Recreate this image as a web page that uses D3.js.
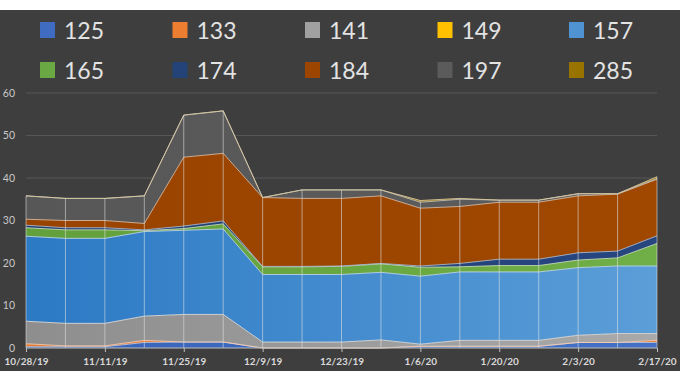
<!DOCTYPE html>
<html>
<head>
<meta charset="utf-8">
<script src="https://cdn.jsdelivr.net/npm/d3@7"></script>
<style>
  html, body { margin: 0; padding: 0; background: #ffffff; }
  svg { display: block; }
</style>
</head>
<body>
<svg id="chart" width="680" height="382"></svg>
<script>
// ---------- DATA ----------
const dates = ["10/28/19","11/4/19","11/11/19","11/18/19","11/25/19","12/2/19","12/9/19","12/16/19",
  "12/23/19","12/30/19","1/6/20","1/13/20","1/20/20","1/27/20","2/3/20","2/10/20","2/17/20"];
const xTickLabels = ["10/28/19","11/11/19","11/25/19","12/9/19","12/23/19","1/6/20","1/20/20","2/3/20","2/17/20"];
const yTicks = [0, 10, 20, 30, 40, 50, 60];
const seriesNames = ["125","133","141","149","157","165","174","184","197","285"];
const s125 = [0.3,0.3,0.3,1.3,1.4,1.4,0,0,0,0,0.4,0.4,0.4,0.4,1.3,1.3,1.3];
const s133 = [0.7,0.2,0.2,0.5,0,0,0,0,0,0,0,0,0,0,0,0,0.5];
const s141 = [5.3,5.3,5.3,5.7,6.5,6.5,1.4,1.4,1.4,1.9,0.5,1.4,1.4,1.4,1.7,2.1,1.6];
const s149 = [0,0,0,0,0,0,0,0,0,0,0,0,0,0,0,0,0];
const s157 = [20.0,20.0,20.0,19.9,19.8,20.1,15.9,15.9,15.9,15.9,16.0,16.1,16.1,16.1,15.9,15.9,15.9];
const s165 = [2.0,2.0,2.0,0.2,0.4,1.2,1.8,1.8,1.9,2.0,2.1,1.2,1.5,1.5,1.8,1.9,5.3];
const s174 = [0.6,0.5,0.5,0.2,0.6,0.7,0.1,0.1,0.1,0.1,0.3,0.8,1.5,1.5,1.7,1.6,1.8];
const s184 = [1.4,1.7,1.7,1.5,16.2,15.9,16.2,16.0,15.9,15.9,13.6,13.4,13.4,13.4,13.4,13.4,13.3];
const s197 = [5.5,5.2,5.2,6.5,9.9,10.0,0,2.0,2.0,1.4,1.4,1.7,0.5,0.5,0.5,0.1,0.2];
const s285 = [0,0,0,0,0,0,0,0,0,0,0.4,0.2,0,0,0,0,0.4];
const seriesValues = [s125,s133,s141,s149,s157,s165,s174,s184,s197,s285];
const seriesColors = ["#3f6cc0","#ed7d31","#a0a0a0","#ffc000","#4f93d2","#6aa843","#244379","#9c4500","#5b5b5b","#997300"];
const gradLeft  = ["#3864b8","#ea7a2e","#8e8e8e","#f5b800","#2c79c4","#62a03c","#223f72","#994300","#575757","#936e00"];
const gradRight = ["#4272c6","#ef8035","#a9a9a9","#ffc400","#5b9ed8","#70ae47","#274680","#a04800","#5d5d5d","#9b7500"];

// ---------- BUILD ----------
const rows = dates.map((d, i) => {
  const r = { date: d };
  seriesNames.forEach((n, k) => r[n] = seriesValues[k][i]);
  return r;
});

const svg = d3.select("#chart");
const W = 680, H = 382;

svg.append("rect").attr("x", 0).attr("y", 0).attr("width", W).attr("height", H).attr("fill", "#ffffff");
svg.append("rect").attr("x", 0).attr("y", 10).attr("width", W).attr("height", 361).attr("fill", "#3e3e3e");

const x = d3.scalePoint().domain(dates).range([26, 657]);
const y = d3.scaleLinear().domain([0, 60]).range([348, 93]);

const defs = svg.append("defs");
seriesColors.forEach((c, k) => {
  const g = defs.append("linearGradient").attr("id", "grad" + k)
    .attr("gradientUnits", "userSpaceOnUse").attr("x1", 26).attr("x2", 657).attr("y1", 0).attr("y2", 0);
  g.append("stop").attr("offset", "0%").attr("stop-color", gradLeft[k]);
  g.append("stop").attr("offset", "100%").attr("stop-color", gradRight[k]);
});

// gridlines
svg.append("g").selectAll("line").data(yTicks.filter(t => t > 0)).join("line")
  .attr("x1", 26).attr("x2", 657).attr("y1", d => y(d)).attr("y2", d => y(d))
  .attr("stroke", "#575757").attr("stroke-width", 1);

// y labels
svg.append("g").selectAll("text").data(yTicks).join("text")
  .attr("x", 15).attr("y", d => y(d)).attr("dy", "0.35em")
  .attr("text-anchor", "end").attr("fill", "#c8c8c8")
  .attr("font-family", "Lato, 'Open Sans', sans-serif").attr("font-size", 10.5)
  .text(d => d);

// stack
const layers = d3.stack().keys(seriesNames)(rows);

const area = d3.area()
  .x(d => x(d.data.date))
  .y0(d => y(d[0]))
  .y1(d => y(d[1]));

svg.append("g").selectAll("path").data(layers).join("path")
  .attr("d", area)
  .attr("fill", (d, i) => `url(#grad${i})`);

// top border lines of each layer
const topLine = d3.line().x(d => x(d.data.date)).y(d => y(d[1]));
svg.append("g").selectAll("path").data(layers).join("path")
  .attr("d", topLine)
  .attr("fill", "none")
  .attr("stroke", (d, i) => d3.interpolateRgb(seriesColors[i], "#ffffff")(0.6))
  .attr("stroke-opacity", (d, i) => d3.max(d, p => p[1] - p[0]) > 0 ? 0.9 : 0)
  .attr("stroke-width", 1);

// drop lines
const totals = rows.map(r => d3.sum(seriesNames, n => r[n]));
svg.append("g").selectAll("line").data(dates).join("line")
  .attr("x1", d => x(d)).attr("x2", d => x(d))
  .attr("y1", y(0)).attr("y2", (d, i) => y(totals[i]))
  .attr("stroke", "#e6e6e6").attr("stroke-opacity", 0.55).attr("stroke-width", 1);

// x axis
const xAxis = d3.axisBottom(x).tickValues(xTickLabels).tickSize(4).tickPadding(6);
const gx = svg.append("g").attr("transform", `translate(0,${y(0)})`).call(xAxis);
gx.select(".domain").attr("stroke", "#bfbfbf").attr("d", "M26,0H657");
gx.selectAll(".tick line").attr("stroke", "#bfbfbf");
gx.selectAll(".tick text")
  .attr("fill", "#d9d9d9")
  .attr("font-family", "Lato, 'Open Sans', sans-serif")
  .attr("font-size", 10).attr("font-weight", "bold");

// legend
const legCols = [40, 172.5, 305, 437.5, 569];
const legRows = [22, 62];
const leg = svg.append("g").selectAll("g").data(seriesNames).join("g")
  .attr("transform", (d, i) => `translate(${legCols[i % 5]},${legRows[Math.floor(i / 5)]})`);
leg.append("rect").attr("x", 0).attr("y", 0).attr("width", 15).attr("height", 16)
  .attr("fill", (d, i) => seriesColors[i]);
leg.append("text").attr("x", 24).attr("y", 16.5)
  .attr("fill", "#e3e3e3")
  .attr("font-family", "Lato, 'Open Sans', sans-serif").attr("font-size", 23)
  .text(d => d);
</script>
</body>
</html>
